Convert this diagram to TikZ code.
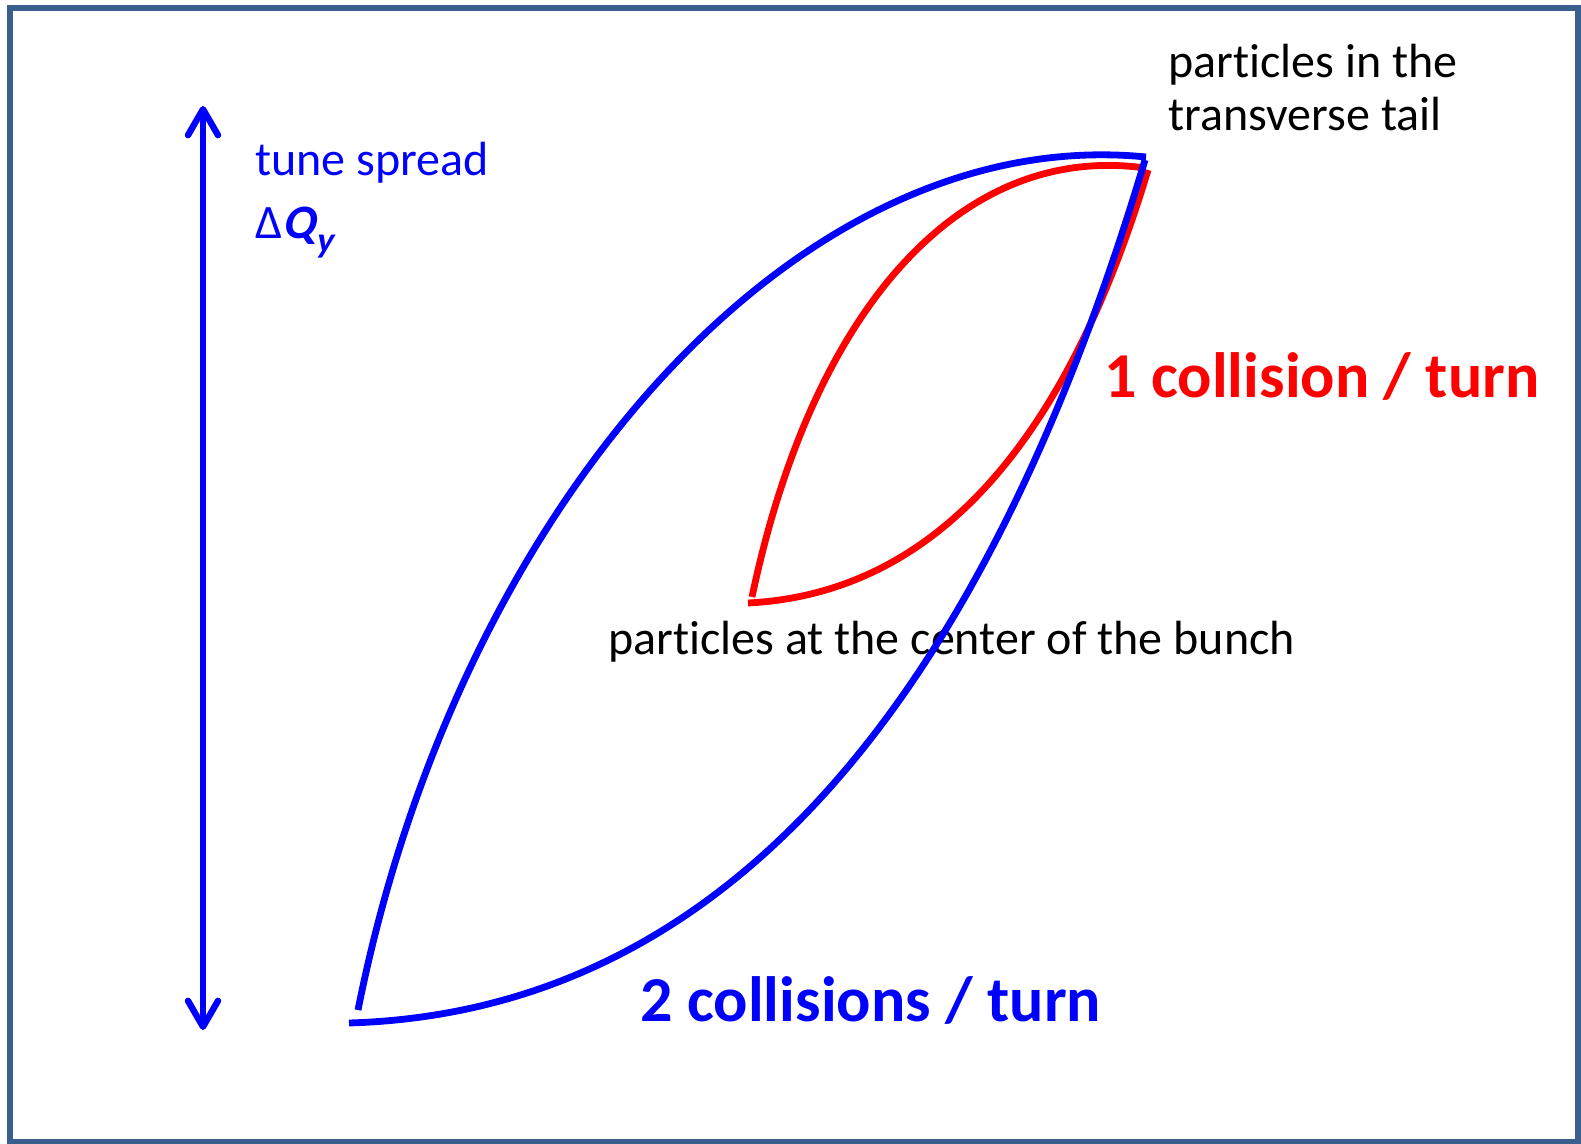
\documentclass[tikz,border=0pt]{standalone}
\usepackage{fontspec}
\setmainfont{Carlito}[Ligatures={NoCommon,NoContextual}, Contextuals=NoAlternate]
\newfontface\bislant{Carlito Bold}[FakeSlant=0.2, Ligatures={NoCommon,NoContextual}]
\usetikzlibrary{arrows.meta,calc}
\definecolor{framec}{RGB}{59,95,140}
\begin{document}
\begin{tikzpicture}[x=0.5pt,y=-0.5pt,
  lbl/.style={anchor=base west, inner sep=0pt, font=\fontsize{24}{29}\selectfont},
  big/.style={anchor=base west, inner sep=0pt, font=\fontsize{32}{38}\selectfont\bfseries},
  curve/.style={line width=3.4pt}
]
\useasboundingbox (0,0) rectangle (1581,1144);
\draw[framec, line width=3pt] (9.5,8.5) rectangle (1578,1142);

% texts
\node[lbl] (tail1) at (1168,78) {particles in the};
\node[lbl] (tail2) at (1168,131) {transverse tail};
\node[lbl, text=blue] (spread) at (255,175.5) {tune spread};
\node[lbl, text=blue] (dq) at (255,239) {Δ{\bislant Q}\raisebox{-0.28em}{\fontsize{18}{18}\selectfont\bislant y}};
\node[lbl] (center) at (608,654) {particles at the center of the bunch};
\node[big, text=red] (one) at (1104,398) {1 collision / turn};
\node[big, text=blue] (two) at (640,1021) {2 collisions / turn};

% arrow
\coordinate (atop) at (203,106);
\coordinate (abot) at (203,1030);
\draw[blue, line width=3.2pt, {Straight Barb[length=13pt,width=15pt,round]}-{Straight Barb[length=13pt,width=15pt,round]}] (atop) -- (abot);

% red lens
\coordinate (RU0) at (752,597);
\coordinate (RU1) at (1145,168);
\coordinate (RUC) at (851,127);
\coordinate (RL0) at (748,603);
\coordinate (RL1) at (1148,170);
\coordinate (RLC) at (1022,589);
\draw[red, curve] (RU0) .. controls ($(RU0)!0.62!(RUC)$) and ($(RU1)!0.62!(RUC)$) .. (RU1);
\draw[red, curve] (RL0) .. controls ($(RL0)!2/3!(RLC)$) and ($(RL1)!2/3!(RLC)$) .. (RL1);

% blue lens
\coordinate (BU0) at (358,1010);
\coordinate (BU1) at (1146,157);
\coordinate (BUC) at (540,97);
\coordinate (BL0) at (349,1023);
\coordinate (BL1) at (1145,160);
\coordinate (BLC) at (892,1007);
\draw[blue, curve] (BU0) .. controls ($(BU0)!0.55!(BUC)$) and ($(BU1)!0.58!(BUC)$) .. (BU1);
\draw[blue, curve] (BL0) .. controls ($(BL0)!2/3!(BLC)$) and ($(BL1)!2/3!(BLC)$) .. (BL1);
\end{tikzpicture}
\end{document}
